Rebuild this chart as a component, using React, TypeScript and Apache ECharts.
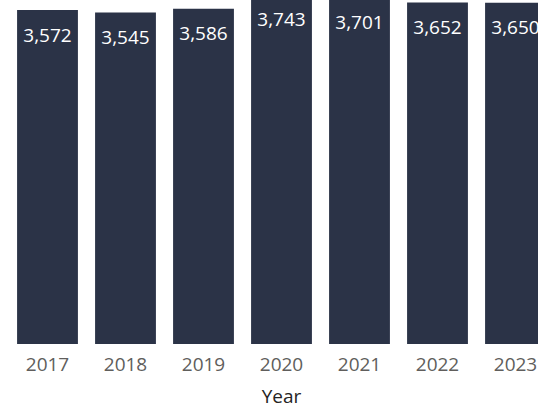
import React, { useEffect, useRef } from "react";
import * as echarts from "echarts";

const years = ["2017", "2018", "2019", "2020", "2021", "2022", "2023"];
const values = [3572, 3545, 3586, 3743, 3701, 3652, 3650];
const axisTitle = "Year";

const FONT = "'Segoe UI', 'Open Sans', 'Noto Sans', sans-serif";

export default function App() {
  const ref = useRef<HTMLDivElement>(null);
  useEffect(() => {
    if (!ref.current) return;
    const chart = echarts.init(ref.current, undefined, { renderer: "svg" });
    chart.setOption({
      animation: false,
      backgroundColor: "#ffffff",
      grid: { left: 8.5, right: 0.5, top: 0, bottom: 66, containLabel: false },
      xAxis: {
        type: "category",
        data: years,
        axisLine: { show: false },
        axisTick: { show: false },
        axisLabel: { color: "#605E5C", fontSize: 19, fontFamily: FONT, margin: 10 },
        name: axisTitle,
        nameLocation: "middle",
        nameGap: 42,
        nameTextStyle: { color: "#252423", fontSize: 19, fontFamily: FONT },
      },
      yAxis: {
        type: "value",
        min: 0,
        max: 4000,
        show: false,
        splitLine: { show: false },
      },
      series: [
        {
          type: "bar",
          data: values,
          barCategoryGap: "22%",
          itemStyle: { color: "#2B3347" },
          label: {
            show: true,
            position: "insideTop",
            distance: 15,
            color: "#ffffff",
            fontSize: 19,
            fontFamily: FONT,
            formatter: (p: any) => Number(p.value).toLocaleString("en-US"),
          },
        },
      ],
    });
    return () => chart.dispose();
  }, []);
  return (
    <div
      style={{
        position: "fixed",
        left: 0,
        top: 0,
        width: 538,
        height: 410,
        overflow: "hidden",
        background: "#ffffff",
      }}
    >
      <div
        ref={ref}
        style={{ position: "absolute", left: 0, top: -30, width: 555, height: 440 }}
      />
    </div>
  );
}
